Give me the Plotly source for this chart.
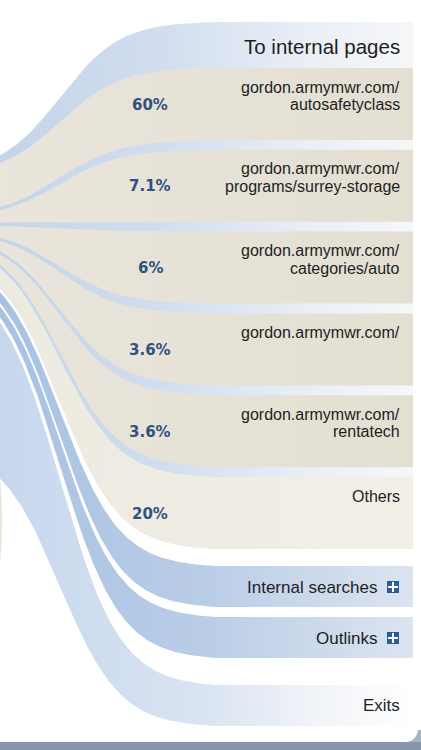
import numpy as np
import plotly.graph_objects as go

# ---------------- data ----------------
page_labels = [
    "gordon.armymwr.com/<br>autosafetyclass",
    "gordon.armymwr.com/<br>programs/surrey-storage",
    "gordon.armymwr.com/<br>categories/auto",
    "gordon.armymwr.com/",
    "gordon.armymwr.com/<br>rentatech",
    "Others",
]
page_pct = [60, 7.1, 6, 3.6, 3.6, 20]
page_pct_labels = ["60%", "7.1%", "6%", "3.6%", "3.6%", "20%"]
group_title = "To internal pages"
group_share = 31.0                      # share of all transitions (estimated)
other_labels = ["Internal searches", "Outlinks", "Exits"]
other_shares = [2.7, 2.7, 63.6]         # estimated from flow widths
other_expandable = [True, True, False]

# ---------------- layout constants ----------------
W, H = 421, 750
X_SRC, X_END, X_RIGHT = -80.0, 215.0, 413.0
XC, WID = 60.0, 30.0

HEADER_TOP = 22.0
FIRST_BOX_TOP = 68.0
BOX_H = 72.0
BOX_PITCH = 81.8
OTHER_TOPS = [566.0, 617.0, 685.0]
OTHER_H = 41.0

SRC_TOP = 172.0
PX_PER_PCT = 2.68
SRC_GAP = 2.5
INNER_PAD = 3.0


def sig(v):
    return 1.0 / (1.0 + np.exp(-v))


def g(x):
    a = sig((XC - X_SRC) / WID)
    b = sig((XC - X_END) / WID)
    return np.clip((sig((XC - x) / WID) - b) / (a - b), 0, 1)


xs = np.concatenate([np.linspace(X_SRC, X_END, 160), [X_RIGHT]])
gx = g(xs)


def band(src_top, src_bot, end_top, end_bot):
    top = end_top + (src_top - end_top) * gx
    bot = end_bot + (src_bot - end_bot) * gx
    x = np.concatenate([xs, xs[::-1], [xs[0]]])
    y = np.concatenate([top, bot[::-1], [top[0]]])
    return x, y


def grad(stops):
    return dict(type="horizontal", colorscale=stops, start=0, stop=X_RIGHT)


fig = go.Figure()

# group band (To internal pages)
page_tops = [FIRST_BOX_TOP + i * BOX_PITCH for i in range(len(page_pct))]
group_end_bot = page_tops[-1] + BOX_H
group_src_bot = SRC_TOP + group_share * PX_PER_PCT
gxp, gyp = band(SRC_TOP, group_src_bot, HEADER_TOP, group_end_bot)
fig.add_trace(go.Scatter(
    x=gxp, y=gyp, mode="lines", fill="toself", line=dict(width=0),
    fillgradient=grad([[0, "rgb(196,212,234)"], [0.4, "rgb(210,222,239)"],
                       [0.75, "rgb(234,239,246)"], [1, "rgb(246,247,249)"]]),
    hoverinfo="skip", showlegend=False))

# page flows
usable = (group_src_bot - SRC_TOP - INNER_PAD) - SRC_GAP * (len(page_pct) - 1)
tot = sum(page_pct)
cur = SRC_TOP + INNER_PAD
for i, p in enumerate(page_pct):
    h = p / tot * usable
    px_, py_ = band(cur, cur + h, page_tops[i], page_tops[i] + BOX_H)
    cur += h + SRC_GAP
    if i == len(page_pct) - 1:
        stops = [[0, "rgb(237,234,224)"], [1, "rgb(242,239,231)"]]
    else:
        stops = [[0, "rgb(233,229,218)"], [1, "rgb(227,223,211)"]]
    fig.add_trace(go.Scatter(
        x=px_, y=py_, mode="lines", fill="toself", line=dict(width=0),
        fillgradient=grad(stops), hoverinfo="skip", showlegend=False))

# other flows
cur = group_src_bot + SRC_GAP
for i, s in enumerate(other_shares):
    h = s * PX_PER_PCT
    ox, oy = band(cur, cur + h, OTHER_TOPS[i], OTHER_TOPS[i] + OTHER_H)
    cur += h + SRC_GAP
    if other_expandable[i]:
        stops = [[0, "rgb(168,194,226)"], [0.5, "rgb(186,205,231)"], [1, "rgb(220,228,240)"]]
    else:
        stops = [[0, "rgb(198,215,237)"], [0.5, "rgb(218,228,242)"],
                 [0.75, "rgb(240,243,248)"], [1, "rgb(255,255,255)"]]
    fig.add_trace(go.Scatter(
        x=ox, y=oy, mode="lines", fill="toself", line=dict(width=0),
        fillgradient=grad(stops), hoverinfo="skip", showlegend=False))

# expand icons
icon_y = [OTHER_TOPS[i] + OTHER_H / 2 + 0.5 for i in range(len(other_labels)) if other_expandable[i]]
fig.add_trace(go.Scatter(x=[393] * len(icon_y), y=icon_y, mode="markers",
                         marker=dict(symbol="square", size=12, color="#2c5c98"),
                         hoverinfo="skip", showlegend=False))
fig.add_trace(go.Scatter(x=[393] * len(icon_y), y=icon_y, mode="markers",
                         marker=dict(symbol="cross-thin", size=7, line=dict(color="white", width=2)),
                         hoverinfo="skip", showlegend=False))

ann = []
LABEL_FONT = "Liberation Sans, Arial, sans-serif"
ann.append(dict(x=402, y=HEADER_TOP + 24, text=group_title, xanchor="right", yanchor="middle",
                showarrow=False, font=dict(family=LABEL_FONT, size=20.5, color="#1e1e1e")))
for i, lab in enumerate(page_labels):
    for j, line in enumerate(lab.split("<br>")):
        ann.append(dict(x=402, y=page_tops[i] + 19 + j * 17.5, text=line, xanchor="right",
                        yanchor="middle", showarrow=False,
                        font=dict(family=LABEL_FONT, size=16, color="#1e1e1e")))
    ann.append(dict(x=150, y=page_tops[i] + BOX_H / 2 + 0.5, text="<b>" + page_pct_labels[i] + "</b>",
                    xanchor="center", yanchor="middle", showarrow=False,
                    font=dict(family="DejaVu Sans", size=15, color="#2d5382")))
for i, lab in enumerate(other_labels):
    xr = 378.5 if other_expandable[i] else 402
    yy = OTHER_TOPS[i] + OTHER_H / 2 + (0.5 if other_expandable[i] else -0.5)
    ann.append(dict(x=xr, y=yy, text=lab, xanchor="right", yanchor="middle", showarrow=False,
                    font=dict(family=LABEL_FONT, size=17, color="#1e1e1e")))

fig.update_layout(
    width=W, height=H, margin=dict(l=0, r=0, t=0, b=0),
    paper_bgcolor="white", plot_bgcolor="white",
    xaxis=dict(range=[0, W], visible=False, fixedrange=True),
    yaxis=dict(range=[H, 0], visible=False, fixedrange=True),
    annotations=ann,
    shapes=[
        dict(type="rect", xref="paper", yref="y", x0=0, x1=1, y0=742, y1=750,
             fillcolor="#8796aa", line=dict(width=0), layer="above"),
        dict(type="path", xref="x", yref="y",
             path="M 405 742 Q 416 742 418 730 L 421 730 L 421 742 Z",
             fillcolor="#a9b4c3", line=dict(width=0), layer="above"),
        dict(type="path", xref="x", yref="y",
             path="M 0 478 Q 4 522 0 566 Z",
             fillcolor="rgb(232,228,214)", line=dict(width=0), layer="above"),
    ],
)

fig.write_html("out.html", config={"displayModeBar": False},
               post_script="document.body.style.margin='0';document.body.style.overflow='hidden';")
